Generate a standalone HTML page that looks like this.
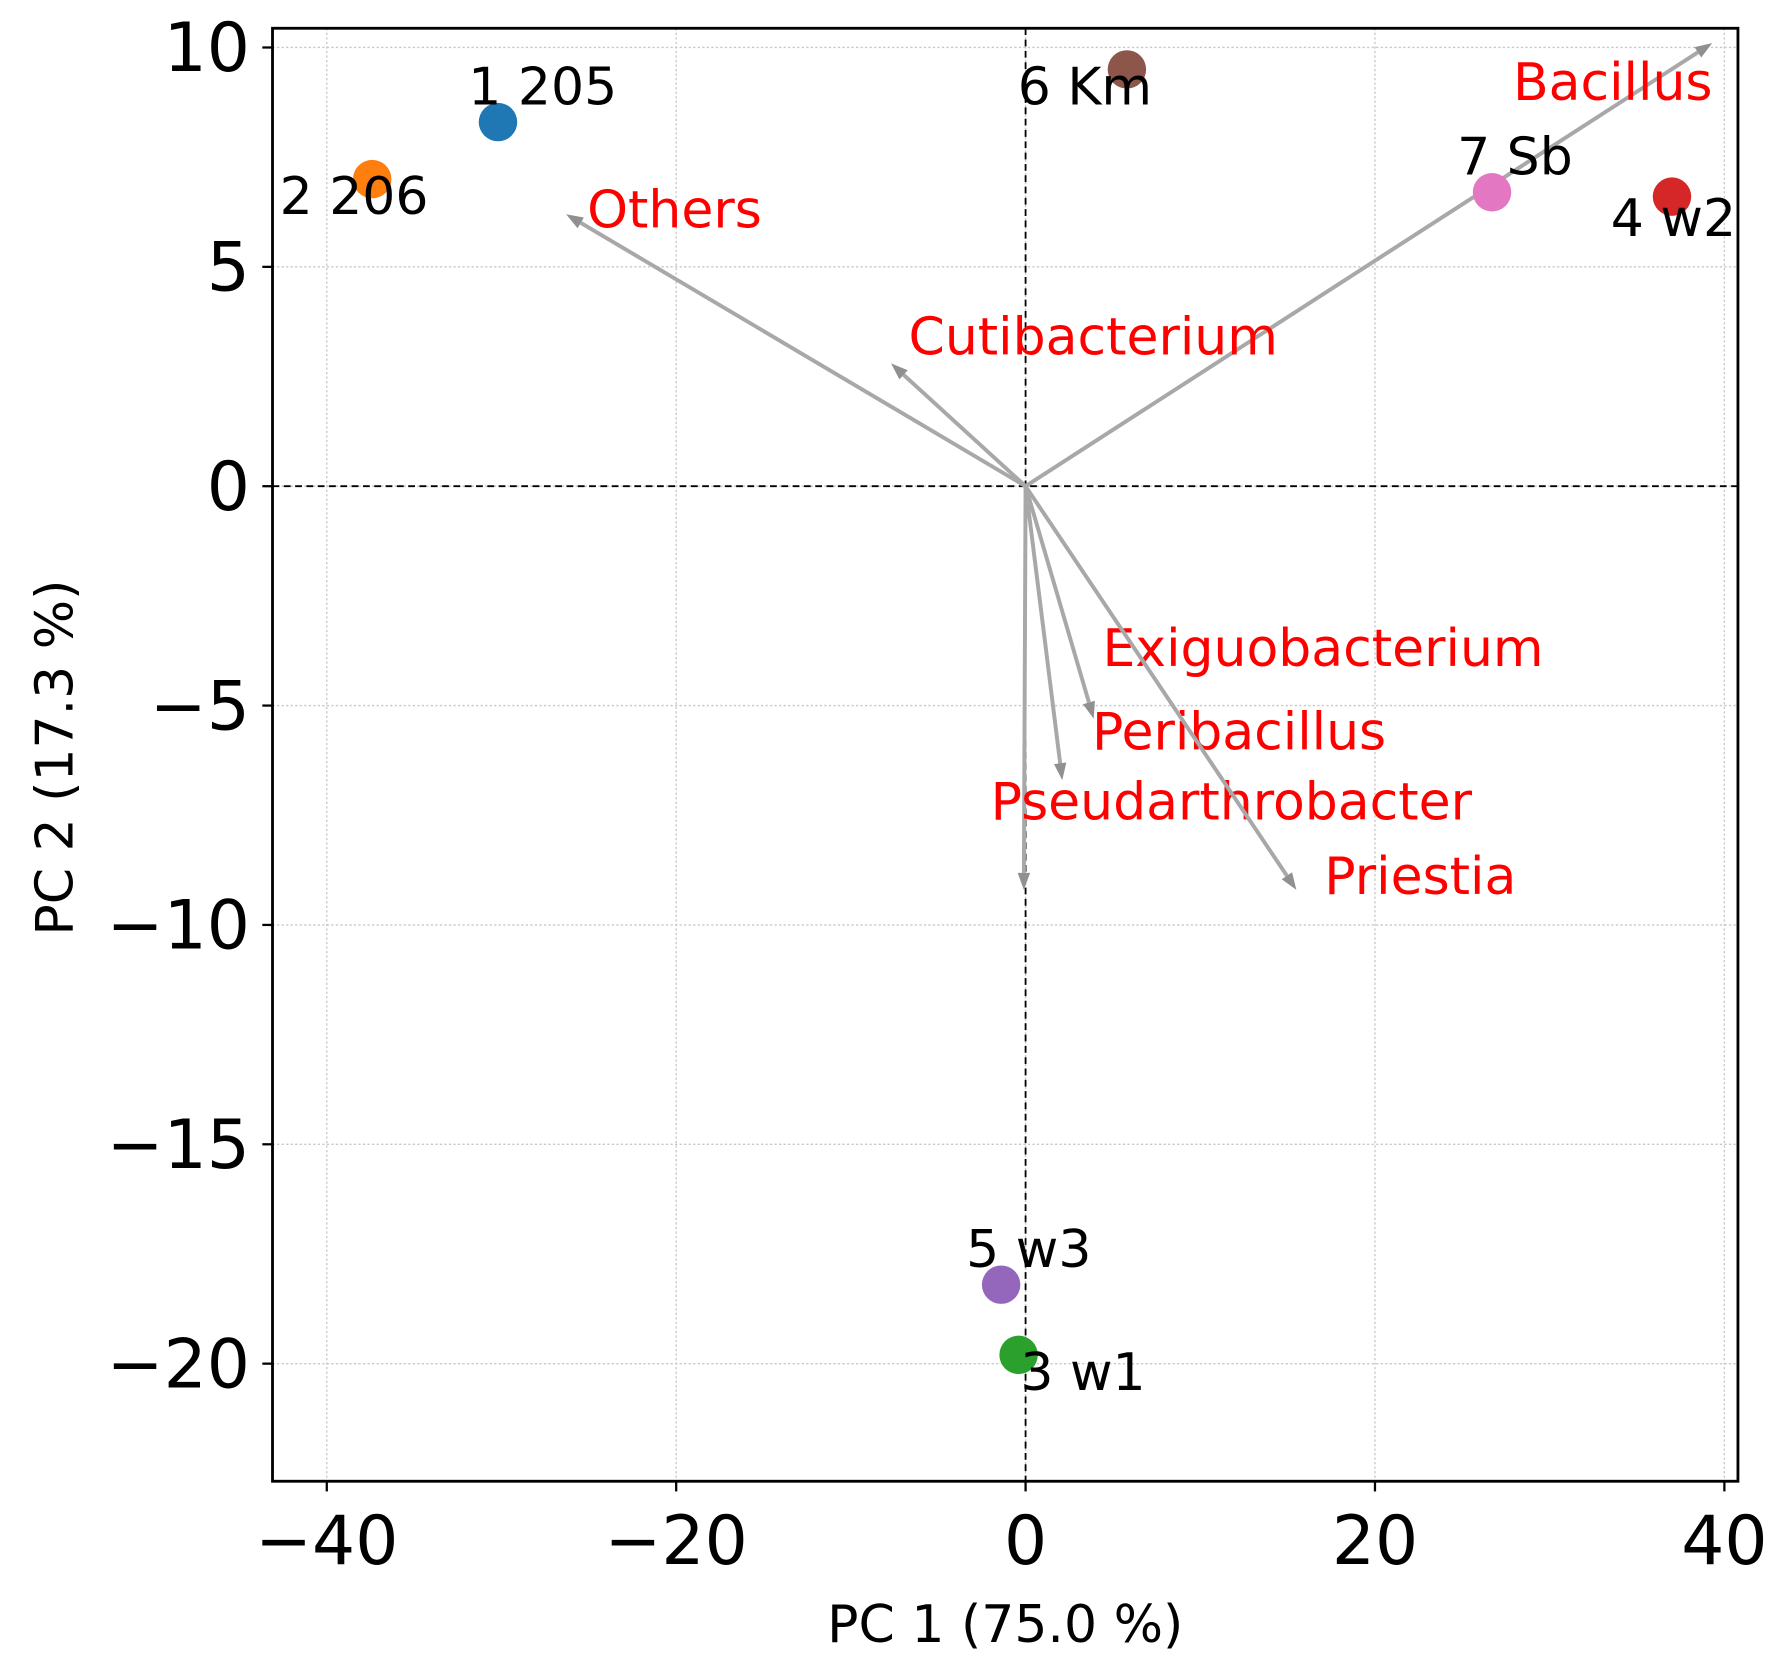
<!DOCTYPE html>
<html><head><meta charset="utf-8"><style>html,body{margin:0;padding:0;background:#fff}svg{display:block}</style></head>
<body>
<svg width="1773" height="1672" viewBox="0 0 1568 1478.7" preserveAspectRatio="none" xmlns="http://www.w3.org/2000/svg" font-family="DejaVu Sans, Liberation Sans, sans-serif">
<g id="plot"></g>
</svg>
<script>
const xTicks=[-40,-20,0,20,40];
const yTicks=[10,5,0,-5,-10,-15,-20];
const sampleNames=["1 205","2 206","6 Km","7 Sb","4 w2","5 w3","3 w1"];
const sampleX=[-30.2,-37.4,5.8,26.7,37.0,-1.4,-0.4];
const sampleY=[8.3,7.0,9.5,6.7,6.6,-18.2,-19.8];
const sampleColors=["#1f77b4","#ff7f0e","#8c564b","#e377c2","#d62728","#9467bd","#2ca02c"];
const sampleLabelDx=[-1.7,-5.3,-6.25,-2.0,-3.5,-2.0,0.1];
const sampleLabelDy=[0.4,-0.8,-0.8,0.4,-0.9,0.4,-0.8];
const loadNames=["Bacillus","Others","Cutibacterium","Exiguobacterium","Peribacillus","Pseudarthrobacter","Priestia"];
const loadX=[39.3,-26.3,-7.7,3.9,-0.1,2.1,15.5];
const loadY=[10.1,6.2,2.8,-5.3,-9.2,-6.7,-9.2];
const loadLabelX=[27.9,-25.1,-6.7,4.4,3.8,-2.0,17.1];
const loadLabelY=[8.8,5.9,3.0,-4.1,-6.0,-7.6,-9.3];

const L=241,R=1537,T=25,B=1310;
const X0=907,XS=15.45,Y0=430,YS=38.8;
const sx=v=>X0+v*XS, sy=v=>Y0-v*YS;
const NS="http://www.w3.org/2000/svg";
const g=document.getElementById('plot');
function mk(tag,attrs,parent){const e=document.createElementNS(NS,tag);for(const k in attrs)e.setAttribute(k,attrs[k]);(parent||g).appendChild(e);return e;}
xTicks.forEach(t=>{const e=mk('line',{x1:sx(t),x2:sx(t),y1:T,y2:B,stroke:'#c8c8c8','stroke-width':1.2,'stroke-dasharray':'2,2'});

});
yTicks.forEach(t=>{const e=mk('line',{x1:L,x2:R,y1:sy(t),y2:sy(t),stroke:'#c8c8c8','stroke-width':1.2,'stroke-dasharray':'2,2'});

});
let z=mk('line',{x1:sx(0),x2:sx(0),y1:T,y2:B,stroke:'#000','stroke-width':1.6,'stroke-dasharray':'6,4'});


z=mk('line',{x1:L,x2:R,y1:sy(0),y2:sy(0),stroke:'#000','stroke-width':1.6,'stroke-dasharray':'6,4'});


loadNames.forEach((n,i)=>{
  const x1=sx(0),y1=sy(0),x2=sx(loadX[i]),y2=sy(loadY[i]);
  const a=Math.atan2(y2-y1,x2-x1),h=15,w=5.5;
  const bx=x2-h*Math.cos(a),by=y2-h*Math.sin(a);
  const grp=mk('g',{});
  
  
  mk('line',{x1:x1,y1:y1,x2:bx,y2:by,stroke:'#a8a8a8','stroke-width':3.5},grp);
  mk('polygon',{points:`${x2},${y2} ${bx-w*Math.sin(a)},${by+w*Math.cos(a)} ${bx+w*Math.sin(a)},${by-w*Math.cos(a)}`,fill:'#909090'},grp);
  const t=mk('text',{x:sx(loadLabelX[i]),y:sy(loadLabelY[i]),fill:'#ff0000','font-size':46});
  t.textContent=n;
  
  
});
sampleNames.forEach((n,i)=>{
  const c=mk('circle',{cx:sx(sampleX[i]),cy:sy(sampleY[i]),r:17,fill:sampleColors[i]});
  
  
  const t=mk('text',{x:sx(sampleX[i]+sampleLabelDx[i]),y:sy(sampleY[i]+sampleLabelDy[i]),fill:'#000','font-size':46});
  t.textContent=n;
  
  
});
const fr=mk('rect',{x:L,y:T,width:R-L,height:B-T,fill:'none',stroke:'#000','stroke-width':2.5});


xTicks.forEach(t=>{
  mk('line',{x1:sx(t),x2:sx(t),y1:B,y2:B+9,stroke:'#000','stroke-width':2});
  const e=mk('text',{x:sx(t),y:B+73,'text-anchor':'middle','font-size':60});
  e.textContent=(t<0?'\u2212':'')+Math.abs(t);
  
  
});
yTicks.forEach(t=>{
  mk('line',{x1:L-9,x2:L,y1:sy(t),y2:sy(t),stroke:'#000','stroke-width':2});
  const e=mk('text',{x:L-20,y:sy(t)+21,'text-anchor':'end','font-size':60});
  e.textContent=(t<0?'\u2212':'')+Math.abs(t);
  
  
});
let xl=mk('text',{x:889,y:1452,'text-anchor':'middle','font-size':46});
xl.textContent='PC 1 (75.0 %)';


let yl=mk('text',{x:0,y:0,'text-anchor':'middle','font-size':46,transform:'translate(64,670) rotate(-90)'});
yl.textContent='PC 2 (17.3 %)';


</script>
</body></html>
